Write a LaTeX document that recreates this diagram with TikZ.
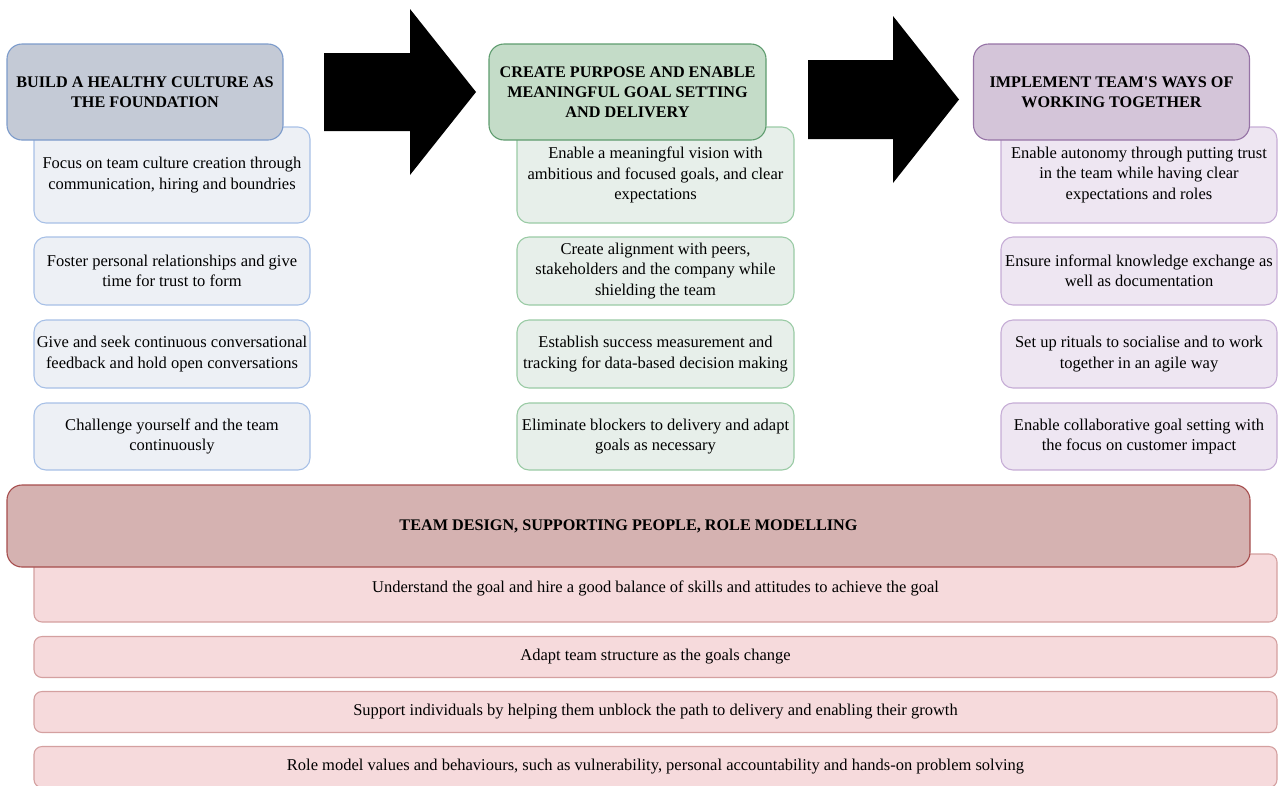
\documentclass[tikz,border=0pt]{standalone}
\usepackage{fontspec}
\setmainfont{Liberation Serif}
\begin{document}
\definecolor{hAfill}{HTML}{C4CAD6}\definecolor{hAline}{HTML}{7C9BCB}
\definecolor{iAfill}{HTML}{EDF0F5}\definecolor{iAline}{HTML}{A7C0E6}
\definecolor{hBfill}{HTML}{C4DCC8}\definecolor{hBline}{HTML}{5E9C6E}
\definecolor{iBfill}{HTML}{E7EFEA}\definecolor{iBline}{HTML}{9ACBA5}
\definecolor{hCfill}{HTML}{D4C5D9}\definecolor{hCline}{HTML}{9673A6}
\definecolor{iCfill}{HTML}{EEE6F2}\definecolor{iCline}{HTML}{C6ADD6}
\definecolor{hDfill}{HTML}{D5B2B1}\definecolor{hDline}{HTML}{A64D4D}
\definecolor{iDfill}{HTML}{F6DADC}\definecolor{iDline}{HTML}{D4A0A0}
\begin{tikzpicture}[x=1pt,y=-1pt,
  box/.style={rectangle, line width=1.1pt, inner sep=0pt, align=center,
    text=black, font=\fontsize{16.5}{20.5}\selectfont},
  head/.style={box, rounded corners=15pt, minimum width=276pt, minimum height=96pt,
    font=\fontsize{16.2}{20}\selectfont\bfseries},
  item/.style={box, rounded corners=12pt, minimum width=276pt},
  wide/.style={box, rounded corners=8pt, minimum width=1243pt},
  blockarrow/.style={fill=black, draw=none}]
\useasboundingbox (0,0) rectangle (1285,785);

% column 1: culture
\node[item, draw=iAline, fill=iAfill, minimum height=96pt] (a1) at (172,175)
  {Focus on team culture creation through\\communication, hiring and boundries};
\node[item, draw=iAline, fill=iAfill, minimum height=68pt] (a2) at (172,271)
  {Foster personal relationships and give\\time for trust to form};
\node[item, draw=iAline, fill=iAfill, minimum height=68pt] (a3) at (172,354)
  {Give and seek continuous conversational\\feedback and hold open conversations};
\node[item, draw=iAline, fill=iAfill, minimum height=67pt] (a4) at (172,436.5)
  {Challenge yourself and the team\\continuously};
\node[head, draw=hAline, fill=hAfill] (ha) at (145,92)
  {BUILD A HEALTHY CULTURE AS\\THE FOUNDATION};

% column 2: purpose and goals
\node[item, draw=iBline, fill=iBfill, minimum height=96pt, minimum width=277pt] (b1) at (655.5,175)
  {Enable a meaningful vision with\\ambitious and focused goals, and clear\\expectations};
\node[item, draw=iBline, fill=iBfill, minimum height=68pt, minimum width=277pt] (b2) at (655.5,271)
  {Create alignment with peers,\\stakeholders and the company while\\shielding the team};
\node[item, draw=iBline, fill=iBfill, minimum height=68pt, minimum width=277pt] (b3) at (655.5,354)
  {Establish success measurement and\\tracking for data-based decision making};
\node[item, draw=iBline, fill=iBfill, minimum height=67pt, minimum width=277pt] (b4) at (655.5,436.5)
  {Eliminate blockers to delivery and adapt\\goals as necessary};
\node[head, draw=hBline, fill=hBfill, minimum width=277pt] (hb) at (627.5,92)
  {CREATE PURPOSE AND ENABLE\\MEANINGFUL GOAL SETTING\\AND DELIVERY};

% column 3: ways of working
\node[item, draw=iCline, fill=iCfill, minimum height=96pt] (c1) at (1139,175)
  {Enable autonomy through putting trust\\in the team while having clear\\expectations and roles};
\node[item, draw=iCline, fill=iCfill, minimum height=68pt] (c2) at (1139,271)
  {Ensure informal knowledge exchange as\\well as documentation};
\node[item, draw=iCline, fill=iCfill, minimum height=68pt] (c3) at (1139,354)
  {Set up rituals to socialise and to work\\together in an agile way};
\node[item, draw=iCline, fill=iCfill, minimum height=67pt] (c4) at (1139,436.5)
  {Enable collaborative goal setting with\\the focus on customer impact};
\node[head, draw=hCline, fill=hCfill] (hc) at (1111.5,92)
  {IMPLEMENT TEAM\textquotesingle S WAYS OF\\WORKING TOGETHER};

% block arrows between the columns
\draw[blockarrow] (324,53) -- (410,53) -- (410,9) -- (476,92) -- (410,175) -- (410,131) -- (324,131) -- cycle;
\draw[blockarrow] (808,60) -- (893,60) -- (893,16) -- (959,99.5) -- (893,183) -- (893,139) -- (808,139) -- cycle;

% bottom band: team design
\node[wide, draw=iDline, fill=iDfill, minimum height=68pt] (d1) at (655.5,588)
  {Understand the goal and hire a good balance of skills and attitudes to achieve the goal};
\node[wide, draw=iDline, fill=iDfill, minimum height=41pt] (d2) at (655.5,657)
  {Adapt team structure as the goals change};
\node[wide, draw=iDline, fill=iDfill, minimum height=41pt] (d3) at (655.5,712)
  {Support individuals by helping them unblock the path to delivery and enabling their growth};
\node[wide, draw=iDline, fill=iDfill, minimum height=41pt] (d4) at (655.5,767)
  {Role model values and behaviours, such as vulnerability, personal accountability and hands-on problem solving};
\node[head, draw=hDline, fill=hDfill, minimum width=1243pt, minimum height=82pt] (hd) at (628.5,526)
  {TEAM DESIGN, SUPPORTING PEOPLE, ROLE MODELLING};
\end{tikzpicture}
\end{document}
